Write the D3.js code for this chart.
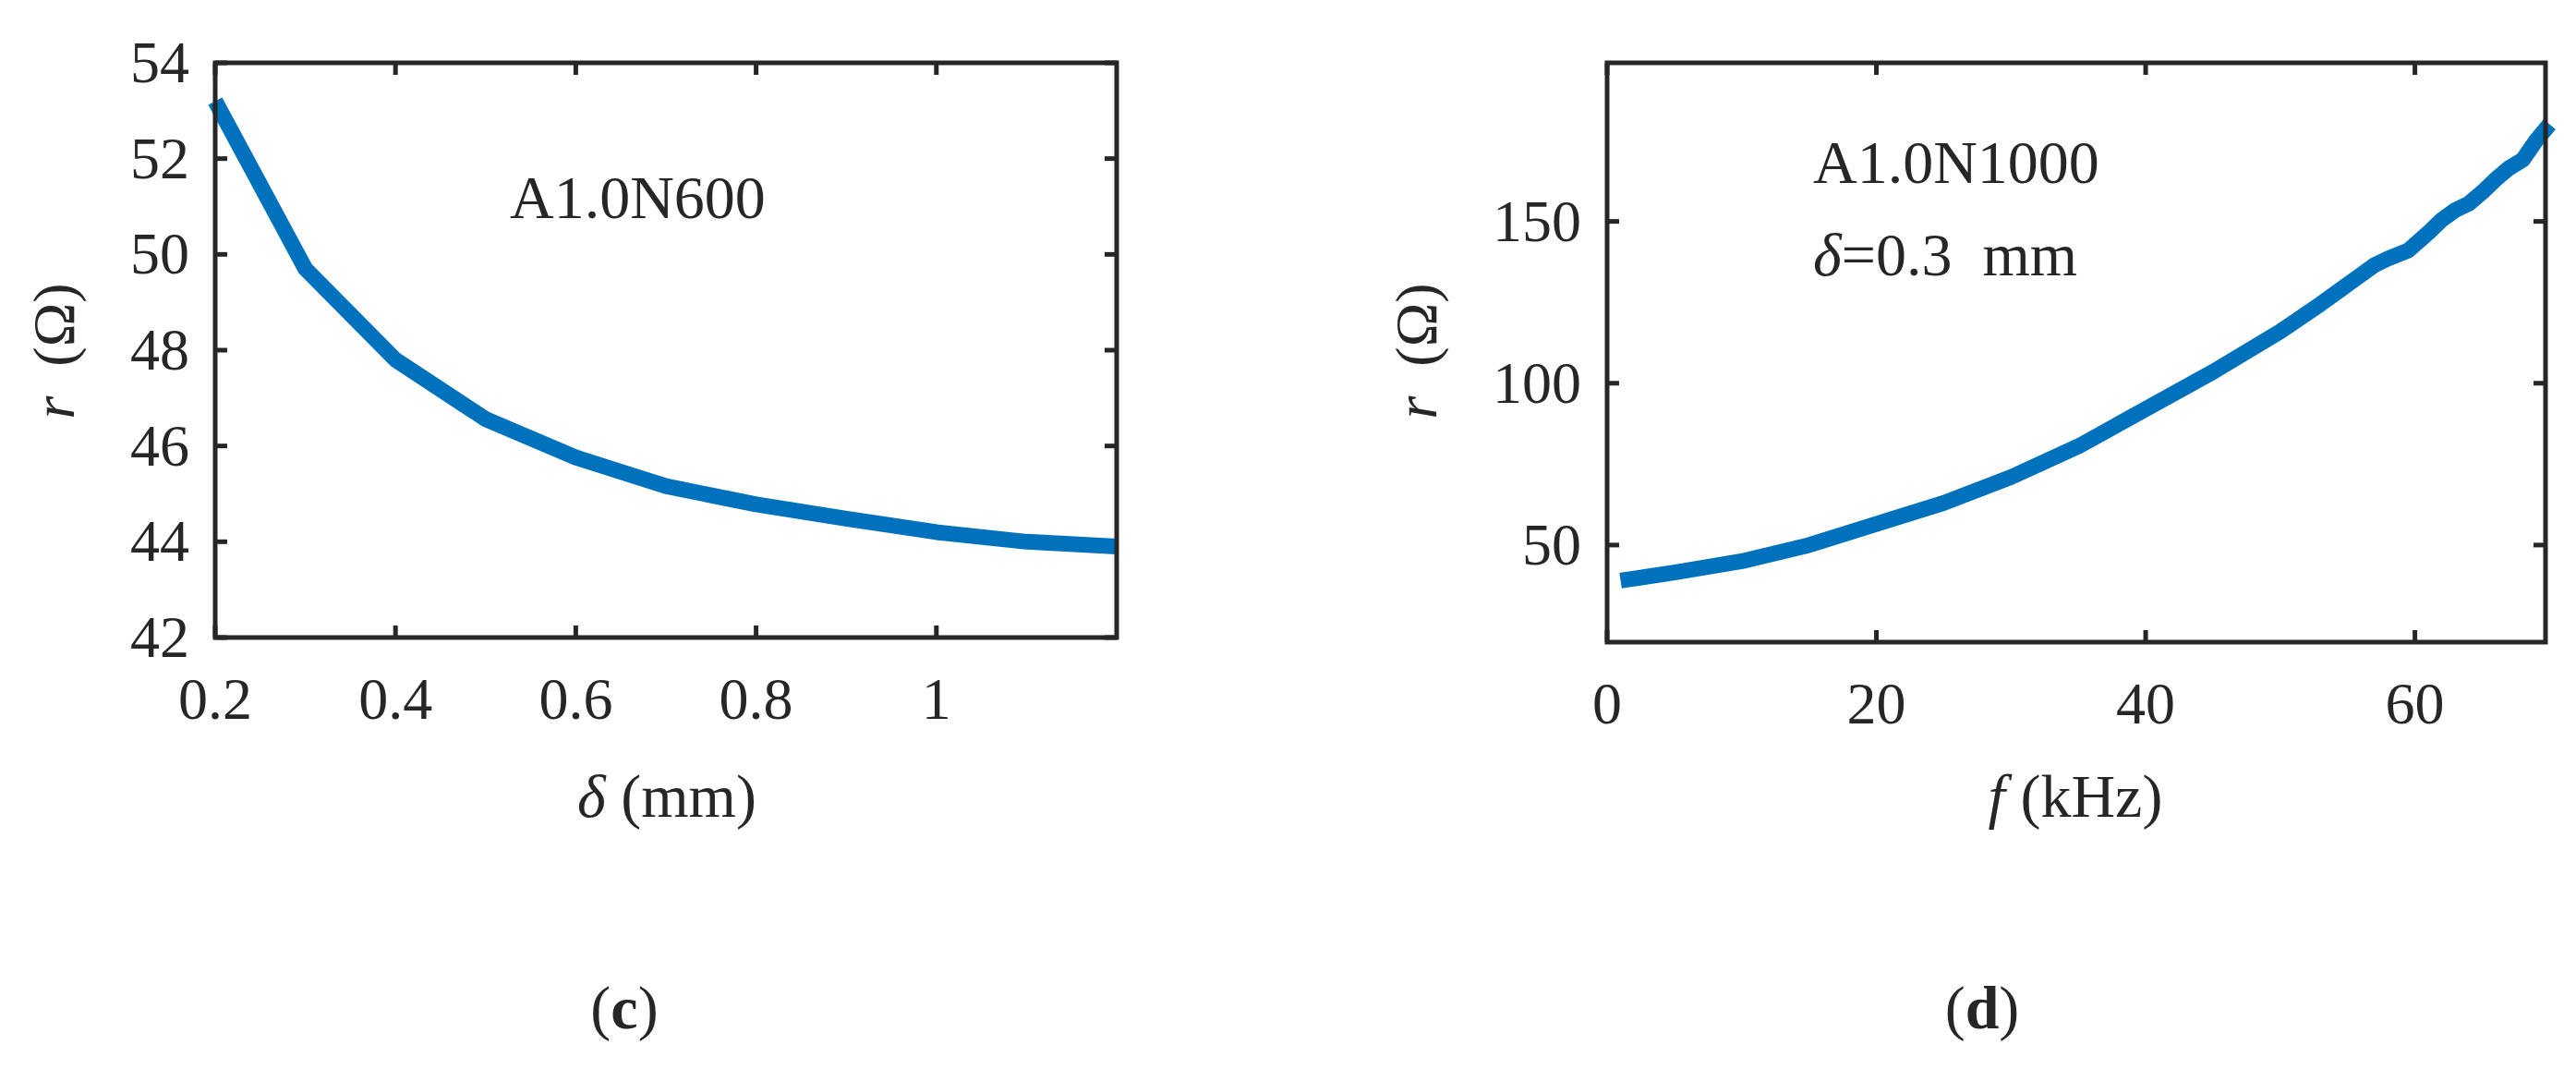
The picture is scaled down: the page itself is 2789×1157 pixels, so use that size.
<!DOCTYPE html>
<html><head><meta charset="utf-8">
<script src="https://cdn.jsdelivr.net/npm/d3@7"></script>
<style>body{margin:0;background:#fff}svg{display:block}text{font-family:"Liberation Serif","DejaVu Serif",serif;fill:#262626}</style>
</head><body>
<svg id="c" width="2789" height="1157"></svg>
<script>
const deltaMm = [0.2,0.3,0.4,0.5,0.6,0.7,0.8,0.9,1.0,1.1,1.2];
const rDelta = [53.2,49.7,47.8,46.56,45.76,45.16,44.78,44.48,44.2,44.0,43.9];
const freqKHz = [1,5,10,15,20,25,30,35,40,45,50,53,55,57,58,59.5,61,62,63,64,65,66,67,68,69,70];
const rFreq = [39,41.5,45,50,56.5,63,71,80.5,92,103.5,116,124.5,130.5,136.5,138.5,141,146.5,150.5,153.5,155.5,159,163,166.5,169,175,180];
const xTicksC = [0.2,0.4,0.6,0.8,1.0], yTicksC = [42,44,46,48,50,52,54];
const xTicksD = [0,20,40,60], yTicksD = [50,100,150];

const svg = d3.select("#c");
const BLUE = "#0072BD", INK = "#262626";

function panel(o){
  const g = svg.append("g");
  const x = d3.scaleLinear().domain(o.xd).range([o.l,o.r]);
  const y = d3.scaleLinear().domain(o.yd).range([o.b,o.t]);
  const tl = 13;
  // ticks (inward, mirrored)
  o.xt.forEach(v=>{
    [[o.b,o.b-tl],[o.t,o.t+tl]].forEach(([a,b])=>g.append("line").attr("x1",x(v)).attr("x2",x(v)).attr("y1",a).attr("y2",b).attr("stroke",INK).attr("stroke-width",5));
    g.append("text").attr("x",x(v)).attr("y",o.b+88).attr("text-anchor","middle").attr("font-size",64).text(o.fmtX(v));
  });
  o.yt.forEach(v=>{
    [[o.l,o.l+tl],[o.r,o.r-tl]].forEach(([a,b])=>g.append("line").attr("x1",a).attr("x2",b).attr("y1",y(v)).attr("y2",y(v)).attr("stroke",INK).attr("stroke-width",5));
    g.append("text").attr("x",o.l-28).attr("y",y(v)+21).attr("text-anchor","end").attr("font-size",64).text(v);
  });
  const line = d3.line().x(d=>x(d[0])).y(d=>y(d[1]));
  g.append("path").datum(o.xs.map((v,i)=>[v,o.ys[i]])).attr("d",line).attr("fill","none").attr("stroke",BLUE).attr("stroke-width",17).attr("stroke-linejoin","round");
  g.append("rect").attr("x",o.l).attr("y",o.t).attr("width",o.r-o.l).attr("height",o.b-o.t).attr("fill","none").attr("stroke",INK).attr("stroke-width",5);
  return {g,x,y};
}

const c = panel({l:233,r:1209,t:68,b:690,xd:[0.2,1.2],yd:[42,54],xt:xTicksC,yt:yTicksC,xs:deltaMm,ys:rDelta,fmtX:v=>d3.format("~g")(v)});
c.g.append("text").attr("x",552).attr("y",236).attr("font-size",66).text("A1.0N600");
c.g.append("text").attr("transform","translate(80,380) rotate(-90)").attr("text-anchor","middle").attr("font-size",64)
  .html('<tspan font-style="italic">r</tspan>\u00a0\u00a0(Ω)');
c.g.append("text").attr("x",722).attr("y",884).attr("text-anchor","middle").attr("font-size",66)
  .html('<tspan font-style="italic">δ</tspan> (mm)');
c.g.append("text").attr("x",676).attr("y",1113).attr("text-anchor","middle").attr("font-size",66)
  .html('(<tspan font-weight="bold">c</tspan>)');

const d = panel({l:1740,r:2756,t:68,b:695,xd:[0,69.7],yd:[20,199],xt:xTicksD,yt:yTicksD,xs:freqKHz,ys:rFreq,fmtX:v=>v});
d.g.append("text").attr("x",1963).attr("y",198).attr("font-size",66).text("A1.0N1000");
d.g.append("text").attr("x",1963).attr("y",298).attr("font-size",66)
  .html('<tspan font-style="italic">δ</tspan>=0.3\u00a0\u00a0mm');
d.g.append("text").attr("transform","translate(1555,380) rotate(-90)").attr("text-anchor","middle").attr("font-size",64)
  .html('<tspan font-style="italic">r</tspan>\u00a0\u00a0(Ω)');
d.g.append("text").attr("x",2247).attr("y",884).attr("text-anchor","middle").attr("font-size",66)
  .html('<tspan font-style="italic">f</tspan> (kHz)');
d.g.append("text").attr("x",2146).attr("y",1113).attr("text-anchor","middle").attr("font-size",66)
  .html('(<tspan font-weight="bold">d</tspan>)');
</script>
</body></html>
